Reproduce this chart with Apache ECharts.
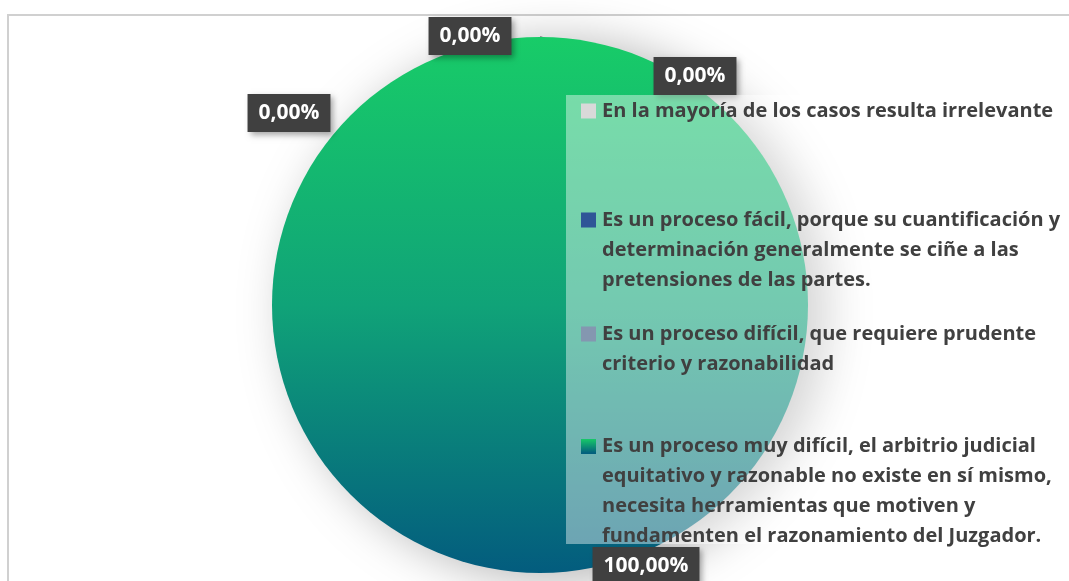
<!DOCTYPE html>
<html>
<head>
<meta charset="utf-8">
<script src="https://cdn.jsdelivr.net/npm/echarts@6/dist/echarts.min.js"></script>
<style>
  html, body { margin: 0; padding: 0; background: #fff; }
  #frame { position: absolute; left: 7px; top: 14px; width: 1200px; height: 800px; border: 2px solid #d0d0d0; }
  #main { position: absolute; left: 0; top: 0; width: 1069px; height: 581px; }
</style>
</head>
<body>
<div id="frame"></div>
<div id="main"></div>
<script>
// categorias y valores (porcentaje)
const categorias = [
    'En la mayoría de los casos resulta irrelevante',
    'Es un proceso fácil, porque su cuantificación y\ndeterminación generalmente se ciñe a las\npretensiones de las partes.',
    'Es un proceso difícil, que requiere prudente\ncriterio y razonabilidad',
    'Es un proceso muy difícil, el arbitrio judicial\nequitativo y razonable no existe en sí mismo,\nnecesita herramientas que motiven y\nfundamenten el razonamiento del Juzgador.'
]
const valores = [0, 0, 0, 100]
const colores = ['#d9d9d9', '#2f5597', '#8497b0', null]

var myChart = echarts.init(document.getElementById('main'))

const gradiente = new echarts.graphic.LinearGradient(0, 0, 0, 1, [
    { offset: 0, color: '#18cc68' },
    { offset: 0.5, color: '#10a378' },
    { offset: 1, color: '#035c7e' }
])

// el cuadrito de la leyenda para el degradado (rich text no acepta gradientes)
let cv = document.createElement('canvas')
cv.width = 15; cv.height = 15
let ctx = cv.getContext('2d')
let g = ctx.createLinearGradient(0, 0, 0, 15)
g.addColorStop(0, '#18cc68')
g.addColorStop(1, '#035c7e')
ctx.fillStyle = g
ctx.fillRect(0, 0, 15, 15)

// donde Excel dejó cada etiqueta
const posEtiquetas = [[695, 76], [470, 36], [289, 113], [646, 566]]
const topsLegend = [95, 208, 322, 434]

let legends = categorias.map(function (c, i) {
    let rich = {
        t: { color: '#404040', fontSize: 20, fontWeight: 'bold', fontFamily: 'Open Sans', lineHeight: 30 },
        sp: { width: 21, height: 15 }
    }
    rich['sq' + i] = {
        width: 15, height: 15,
        backgroundColor: colores[i] || { image: cv }
    }
    rich.gap = { width: 6 }
    let lg = {
        orient: 'vertical',
        left: 566,
        top: topsLegend[i],
        data: [{ name: c, icon: 'none' }],
        selectedMode: false,
        itemWidth: 0,
        itemHeight: 0,
        itemGap: 0,
        padding: [2, 10, 2, 10],
        formatter: function (name) {
            return name.split('\n').map(function (l, k) {
                return (k == 0 ? '{sq' + i + '|}{gap|}' : '{sp|}') + '{t|' + l + '}'
            }).join('\n')
        },
        textStyle: { rich: rich, padding: 0 }
    }
    if (i == 0) {
        // el primero lleva el fondo blanco translúcido que cubre toda la leyenda
        lg.backgroundColor = 'rgba(255,255,255,0.42)'
        lg.padding = [6, 46, 423, 10]
    }
    return lg
})

var option = {
    animation: false,
    legend: legends,
    series: [
        {
            type: 'pie',
            center: [540, 305],
            radius: 268,
            startAngle: 90,
            clockwise: true,
            minShowLabelAngle: 0,
            avoidLabelOverlap: false,
            data: categorias.map(function (c, i) {
                return {
                    name: c,
                    value: valores[i],
                    itemStyle: { color: colores[i] || gradiente },
                    labelLine: { show: i == 0, lineStyle: { color: '#8c8c8c', width: 2 } }
                }
            }),
            itemStyle: {
                shadowBlur: 50,
                shadowOffsetX: 18,
                shadowOffsetY: 6,
                shadowColor: 'rgba(0,0,0,0.3)'
            },
            label: {
                show: true,
                position: 'outside',
                formatter: function (p) {
                    return p.value.toFixed(2).replace('.', ',') + '%'
                },
                color: '#fff',
                fontSize: 21,
                fontWeight: 'bold',
                fontFamily: 'Open Sans',
                backgroundColor: '#404040',
                padding: [9, 11, 8, 11],
                shadowBlur: 6,
                shadowOffsetX: 3,
                shadowOffsetY: 3,
                shadowColor: 'rgba(0,0,0,0.35)'
            },
            labelLine: { length: 10, length2: 10 },
            labelLayout: function (params) {
                let p = posEtiquetas[params.dataIndex]
                return {
                    x: p[0] - params.labelRect.width / 2,
                    y: p[1] - params.labelRect.height / 2,
                    align: 'left',
                    verticalAlign: 'top'
                }
            }
        }
    ]
}

option && myChart.setOption(option)
window.addEventListener('resize', myChart.resize)
</script>
</body>
</html>
